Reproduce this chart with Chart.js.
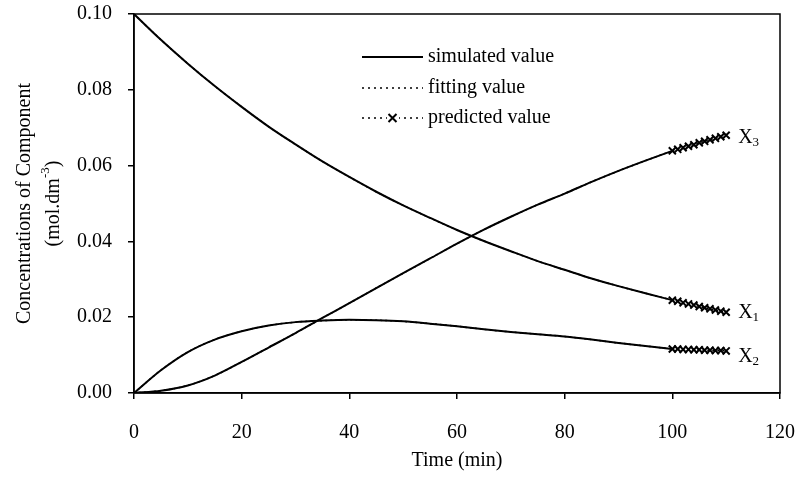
<!DOCTYPE html>
<html>
<head>
<meta charset="utf-8">
<script src="https://cdn.jsdelivr.net/npm/chart.js@4.4.1/dist/chart.umd.min.js"></script>
<style>
  html, body { margin: 0; padding: 0; background: #fff; }
</style>
</head>
<body>
<canvas id="myChart" width="796" height="478"></canvas>
<script>
// time points (min) of the simulated / fitted curves
const times = [0, 5, 10, 15, 20, 25, 30, 35, 40, 45, 50, 55, 60, 65, 70, 75, 80, 85, 90, 95, 100]
const simX1 = [0.1000, 0.0932, 0.0869, 0.0810, 0.0755, 0.0703, 0.0656, 0.0611, 0.0570, 0.0531, 0.0495,
               0.0462, 0.0430, 0.0401, 0.0374, 0.0348, 0.0325, 0.0302, 0.0282, 0.0263, 0.0245]
const simX2 = [0.0000, 0.0060, 0.0108, 0.0141, 0.0163, 0.0178, 0.0187, 0.0191, 0.0193, 0.0192, 0.0189,
               0.0183, 0.0176, 0.0168, 0.0161, 0.0155, 0.0149, 0.0141, 0.0132, 0.0124, 0.0116]
const simX3 = [0.0000, 0.0006, 0.0020, 0.0046, 0.0082, 0.0120, 0.0158, 0.0198, 0.0237, 0.0277, 0.0316,
               0.0355, 0.0394, 0.0431, 0.0465, 0.0497, 0.0526, 0.0557, 0.0586, 0.0613, 0.0639]
// fitting values lie on top of the simulated ones
const fitX1 = simX1
const fitX2 = simX2
const fitX3 = simX3

// predicted values
const predTimes = [100, 101, 102, 103, 104, 105, 106, 107, 108, 109, 110]
const predX1 = [0.0245, 0.0242, 0.0238, 0.0235, 0.0232, 0.0228, 0.0225, 0.0222, 0.0219, 0.0216, 0.0213]
const predX2 = [0.0116, 0.0116, 0.0115, 0.0115, 0.0114, 0.0114, 0.0113, 0.0113, 0.0112, 0.0112, 0.0111]
const predX3 = [0.0639, 0.0643, 0.0647, 0.0651, 0.0655, 0.0660, 0.0664, 0.0668, 0.0672, 0.0676, 0.0680]

const xTicks = [0, 20, 40, 60, 80, 100, 120]
const yTicks = [0, 0.02, 0.04, 0.06, 0.08, 0.10]
const legendLabels = ['simulated value', 'fitting value', 'predicted value']
const curveNames = ['1', '2', '3']   // subscripts of X1, X2, X3

const FONT = "'Liberation Serif', 'Times New Roman', serif"

function pts(xs, ys) {
  return xs.map((x, i) => ({ x: x, y: ys[i] }))
}

function simSet(ys) {
  return {
    data: pts(times, ys),
    borderColor: '#000',
    borderWidth: 2,
    pointRadius: 0,
    cubicInterpolationMode: 'monotone',
    order: 1
  }
}

function fitSet(ys) {
  return {
    data: pts(times, ys),
    borderColor: '#000',
    borderWidth: 1.5,
    borderDash: [2, 3],
    pointRadius: 0,
    cubicInterpolationMode: 'monotone',
    order: 2
  }
}

function predSet(ys) {
  return {
    data: pts(predTimes, ys),
    borderColor: '#000',
    borderWidth: 1.5,
    borderDash: [2, 3],
    pointStyle: 'crossRot',
    pointRadius: 5,
    pointBorderWidth: 2,
    pointBorderColor: '#000',
    order: 0
  }
}

// legend, curve names, axis titles and frame
const decorations = {
  id: 'decorations',
  afterDraw(chart) {
    const ctx = chart.ctx
    const area = chart.chartArea
    const xs = chart.scales.x
    const ys = chart.scales.y
    ctx.save()

    // frame
    ctx.strokeStyle = '#000'
    ctx.lineWidth = 1.5
    ctx.setLineDash([])
    ctx.strokeRect(area.left, area.top, area.right - area.left, area.bottom - area.top)

    ctx.fillStyle = '#000'
    ctx.font = '20px ' + FONT
    ctx.textBaseline = 'middle'

    // legend
    const lx0 = 362, lx1 = 423, tx = 428
    const rows = [57, 88, 118]
    legendLabels.forEach((label, i) => {
      const y = rows[i]
      ctx.beginPath()
      ctx.lineWidth = i === 0 ? 2 : 1.5
      ctx.setLineDash(i === 0 ? [] : [2, 4])
      ctx.moveTo(lx0, y)
      ctx.lineTo(lx1, y)
      ctx.stroke()
      ctx.setLineDash([])
      if (i === 2) {
        const cx = (lx0 + lx1) / 2, r = 4
        ctx.clearRect(cx - 6, y - 5, 12, 10)
        ctx.lineWidth = 2
        ctx.beginPath()
        ctx.moveTo(cx - r, y - r); ctx.lineTo(cx + r, y + r)
        ctx.moveTo(cx + r, y - r); ctx.lineTo(cx - r, y + r)
        ctx.stroke()
      }
      ctx.textAlign = 'left'
      ctx.fillText(label, tx, y)
    })

    // curve names at the end of the predicted values
    const ends = [predX1, predX2, predX3]
    const shifts = [0, 6, 2]
    ends.forEach((arr, i) => {
      const px = xs.getPixelForValue(predTimes[predTimes.length - 1]) + 12
      const py = ys.getPixelForValue(arr[arr.length - 1]) + shifts[i]
      ctx.font = '20px ' + FONT
      ctx.textAlign = 'left'
      ctx.fillText('X', px, py)
      const w = ctx.measureText('X').width
      ctx.font = '13px ' + FONT
      ctx.fillText(curveNames[i], px + w, py + 5)
    })

    // x axis title
    ctx.font = '20px ' + FONT
    ctx.textAlign = 'center'
    ctx.fillText('Time (min)', (area.left + area.right) / 2, 461)

    // y axis title, two lines
    const cy = (area.top + area.bottom) / 2
    ctx.translate(25, cy)
    ctx.rotate(-Math.PI / 2)
    ctx.fillText('Concentrations of Component', 0, 0)
    ctx.translate(0, 29)
    const a = '(mol.dm', sup = '-3', b = ')'
    ctx.font = '20px ' + FONT
    const wa = ctx.measureText(a).width
    const wb = ctx.measureText(b).width
    ctx.font = '13px ' + FONT
    const ws = ctx.measureText(sup).width
    let x = -(wa + ws + wb) / 2
    ctx.textAlign = 'left'
    ctx.font = '20px ' + FONT
    ctx.fillText(a, x, 0)
    ctx.font = '13px ' + FONT
    ctx.fillText(sup, x + wa, -8)
    ctx.font = '20px ' + FONT
    ctx.fillText(b, x + wa + ws, 0)

    ctx.restore()
  }
}

const myChart = new Chart(document.getElementById('myChart'), {
  type: 'scatter',
  data: {
    datasets: [
      simSet(simX1), simSet(simX2), simSet(simX3),
      fitSet(fitX1), fitSet(fitX2), fitSet(fitX3),
      predSet(predX1), predSet(predX2), predSet(predX3)
    ].map(d => Object.assign({ showLine: true, fill: false }, d))
  },
  options: {
    responsive: false,
    animation: false,
    layout: { padding: { top: 14, right: 16, left: 0, bottom: 0 } },
    plugins: {
      legend: { display: false },
      tooltip: { enabled: false }
    },
    scales: {
      x: {
        type: 'linear',
        min: 0,
        max: 120,
        afterBuildTicks: s => { s.ticks = xTicks.map(v => ({ value: v })) },
        afterFit: s => { s.height = 85; s.paddingLeft = 0; s.paddingRight = 0 },
        ticks: {
          color: '#000',
          font: { family: FONT, size: 20 },
          padding: 22,
          maxRotation: 0
        },
        grid: { drawOnChartArea: false, color: '#000', tickLength: 6, lineWidth: 1.5 },
        border: { color: '#000', width: 1.5 }
      },
      y: {
        type: 'linear',
        min: 0,
        max: 0.1,
        afterBuildTicks: s => { s.ticks = yTicks.map(v => ({ value: v })) },
        afterFit: s => { s.width = 134; s.paddingTop = 0; s.paddingBottom = 0 },
        ticks: {
          color: '#000',
          font: { family: FONT, size: 20 },
          padding: 16,
          callback: v => v.toFixed(2)
        },
        grid: { drawOnChartArea: false, color: '#000', tickLength: 6, lineWidth: 1.5 },
        border: { color: '#000', width: 1.5 }
      }
    }
  },
  plugins: [decorations]
})
</script>
</body>
</html>
